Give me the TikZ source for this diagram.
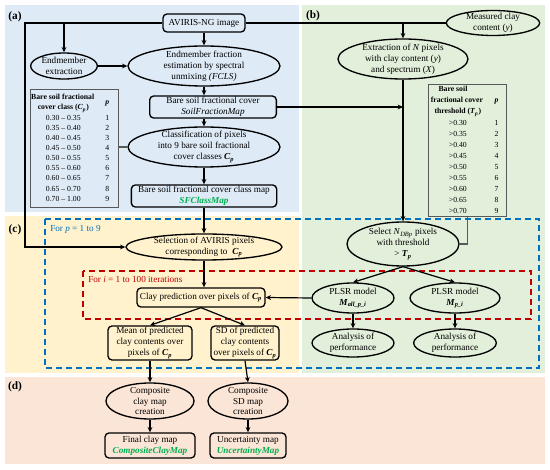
\documentclass[tikz,border=0pt]{standalone}
\usepackage{fontspec}
\setmainfont{Liberation Serif}
\usepackage{array}
\usetikzlibrary{shapes.geometric,arrows.meta}

\definecolor{panelA}{RGB}{222,234,246}
\definecolor{panelB}{RGB}{226,239,218}
\definecolor{panelC}{RGB}{255,242,204}
\definecolor{panelD}{RGB}{251,229,214}
\definecolor{loopblue}{RGB}{0,112,192}
\definecolor{loopred}{RGB}{192,0,0}
\definecolor{mapgreen}{RGB}{0,176,80}

\newcommand{\vb}[1]{\textbf{\textit{#1}}}
\newcommand{\Cp}{\vb{C}\textsubscript{\vb{p}}}
\newcommand{\Tp}{\vb{T}\textsubscript{\vb{p}}}
\newcommand{\tabfont}{\fontsize{5.8}{7.6}\selectfont}

\begin{document}
\begin{tikzpicture}[x=0.75pt,y=0.75pt,yscale=-1,xscale=1,
  font=\fontsize{6.9}{8.2}\selectfont,
  box/.style={draw, line width=1pt, rounded corners=3pt, align=center, inner sep=1pt},
  oval/.style={ellipse, draw, line width=1pt, align=center, inner xsep=0pt, inner ysep=-3pt},
  tabl/.style={draw=gray!70!black, line width=0.6pt, inner sep=0pt},
  tabline/.style={draw=gray!70!black, line width=0.8pt},
  arr/.style={line width=0.9pt, -{Stealth[length=4pt,width=3.6pt]}},
  conn/.style={line width=0.9pt},
  looplbl/.style={anchor=west, inner sep=0.75pt},
  panellbl/.style={font=\fontsize{8.5}{9}\selectfont\bfseries, inner sep=0.75pt}]
\useasboundingbox (0,0) rectangle (550,470);

%Panels
\fill [panelA] (5,5) rectangle (299,212);
\fill [panelB] (302,5) rectangle (545,373);
\fill [panelC] (5,216) rectangle (299,373);
\fill [panelD] (5,377) rectangle (545,464);

%Loop frames
\draw [loopblue, line width=1.1pt, dash pattern=on 4.5pt off 3pt] (45,219) rectangle (539,368);
\draw [loopred, line width=1.1pt, dash pattern=on 4.5pt off 3pt] (83,271) rectangle (531,319);

% Panel labels
\node (lbla) [panellbl] at (15,17) {(a)};
\node (lblb) [panellbl] at (313,16) {(b)};
\node (lblc) [panellbl] at (15,230) {(c)};
\node (lbld) [panellbl] at (15,387) {(d)};

% Loop labels
\node (forp) [looplbl, text=loopblue] at (49,229) {For \textit{p} = 1 to 9};
\node (fori) [looplbl, text=loopred] at (87,279) {For \textit{i} = 1 to 100 iterations};

% Panel (a)
\node (aviris) [box, minimum width=61.5pt, minimum height=13.5pt] at (204,23) {AVIRIS-NG image};
\node (endext) [oval, minimum width=50pt, minimum height=19.5pt] at (64,66) {Endmember\\extraction};
\node (fcls) [oval, minimum width=114pt, minimum height=30pt] at (204,66) {Endmember fraction\\estimation by spectral\\unmixing \textit{(FCLS)}};
\node (sfmap) [box, minimum width=95pt, minimum height=15.75pt] at (213,107) {Bare soil fractional cover\\\textit{SoilFractionMap}};
\node (classif) [oval, minimum width=114pt, minimum height=30pt] at (204,147) {Classification of pixels\\into 9 bare soil fractional\\cover classes \Cp};
\node (sfclass) [box, minimum width=109pt, minimum height=16.5pt] at (204,196) {Bare soil fractional cover class map\\\textcolor{mapgreen}{\vb{SFClassMap}}};
\node (tabcls) [tabl, minimum width=66pt, minimum height=89pt] at (74,148.5) {\tabfont
  \begin{tabular}{@{}>{\centering\arraybackslash}m{50pt}@{}>{\centering\arraybackslash}m{16pt}@{}}
  \textbf{Bare soil fractional}\newline\textbf{cover class (}\Cp\textbf{)} & \vb{p}\\[3pt]
  0.30 – 0.35 & 1\\
  0.35 – 0.40 & 2\\
  0.40 – 0.45 & 3\\
  0.45 – 0.50 & 4\\
  0.50 – 0.55 & 5\\
  0.55 – 0.60 & 6\\
  0.60 – 0.65 & 7\\
  0.65 – 0.70 & 8\\
  0.70 – 1.00 & 9\\
  \end{tabular}};

% Panel (b)
\node (meas) [oval, minimum width=70pt, minimum height=18.75pt] at (493,23) {Measured clay\\content (\textit{y})};
\node (extr) [oval, minimum width=97.5pt, minimum height=30pt] at (403,59) {Extraction of \textit{N} pixels\\with clay content (\textit{y})\\and spectrum (\textit{X})};
\node (tabthr) [tabl, minimum width=58pt, minimum height=98pt] at (467.5,150.5) {\fontsize{5.8}{8.3}\selectfont
  \begin{tabular}{@{}>{\centering\arraybackslash}m{43.5pt}@{}>{\centering\arraybackslash}m{14.5pt}@{}}
  {\fontsize{5.8}{6.8}\selectfont\textbf{Bare soil}\newline\textbf{fractional cover}\newline\textbf{threshold (}\Tp\textbf{)}} & \vb{p}\\[1pt]
  >0.30 & 1\\
  >0.35 & 2\\
  >0.40 & 3\\
  >0.45 & 4\\
  >0.50 & 5\\
  >0.55 & 6\\
  >0.60 & 7\\
  >0.65 & 8\\
  >0.70 & 9\\
  \end{tabular}};
\node (select) [oval, minimum width=84pt, minimum height=33pt] at (403,244) {Select \textit{N}\textsubscript{\textit{DBp}} pixels\\with threshold\\> \Tp};
\node (plsra) [oval, minimum width=61.5pt, minimum height=22.5pt] at (353,298) {PLSR model\\\vb{M}\textsubscript{\vb{all\_p\_i}}};
\node (plsrb) [oval, minimum width=67.5pt, minimum height=22.5pt] at (455,298) {PLSR model\\\vb{M}\textsubscript{\vb{p\_i}}};
\node (anala) [oval, minimum width=61.5pt, minimum height=21pt] at (353,343) {Analysis of\\performance};
\node (analb) [oval, minimum width=62pt, minimum height=21pt] at (455,343) {Analysis of\\performance};

% Panel (c)
\node (selec) [oval, minimum width=117pt, minimum height=19.5pt] at (204,247) {Selection of AVIRIS pixels\\corresponding to \;\Cp};
\node (claypred) [box, minimum width=96pt, minimum height=14.25pt] at (201,297.5) {Clay prediction over pixels of \Cp};
\node (mean) [box, minimum width=63pt, minimum height=25.5pt] at (150,343) {Mean of predicted\\clay contents over\\pixels of \Cp};
\node (sd) [box, minimum width=51pt, minimum height=25.5pt] at (245,343) {SD of predicted\\clay contents\\over pixels of \Cp};

% Panel (d)
\node (compclay) [oval, minimum width=66pt, minimum height=27pt] at (150,401) {Composite\\clay map\\creation};
\node (compsd) [oval, minimum width=60pt, minimum height=27pt] at (248,401) {Composite\\SD map\\creation};
\node (final) [box, minimum width=67.5pt, minimum height=18.75pt] at (150,445.5) {Final clay map\\\textcolor{mapgreen}{\vb{CompositeClayMap}}};
\node (uncert) [box, minimum width=57pt, minimum height=18.75pt] at (248,445.5) {Uncertainty map\\\textcolor{mapgreen}{\vb{UncertaintyMap}}};

%Straight Lines
\coordinate (lft) at (25,23);
\coordinate (jn) at (extr.north |- aviris.east);
\draw [conn] (aviris.east) -- (meas.west);
\draw [arr] (jn) -- (extr.north);
\draw [arr] (aviris.west) -- (lft) |- (selec.west);
\draw [arr] (endext.north |- lft) -- (endext.north);
\draw [arr] (aviris.south) -- (fcls.north);
\draw [arr] (endext.east) -- (fcls.west);
\draw [arr] (fcls.south) -- (fcls.south |- sfmap.north);
\draw [arr] (sfmap.east) -- (sfmap.east -| extr.south);
\draw [arr] (classif.north |- sfmap.south) -- (classif.north);
\draw [tabline] (classif.west -| tabcls.east) -- (classif.west);
\draw [arr] (classif.south) -- (sfclass.north);
\draw [arr] (sfclass.south) -- (selec.north);
\draw [arr] (extr.south) -- (select.north);
\draw [tabline] (tabthr.south) |- (select.east);
\draw [arr] (select.south) -- (plsra.north);
\draw [arr] (select.south) -- (plsrb.north);
\draw [arr] (plsra.west) -- (claypred.east);
\draw [arr] (plsra.south) -- (anala.north);
\draw [arr] (plsrb.south) -- (analb.north);
\draw [arr] (selec.south) -- (selec.south |- claypred.north);
\draw [arr] (claypred.south) -- (mean.north);
\draw [arr] (claypred.south) -- (sd.north);
\draw [arr] (mean.south) -- (compclay.north);
\draw [arr] (sd.south) -- (compsd.north);
\draw [arr] (compclay.south) -- (final.north);
\draw [arr] (compsd.south) -- (uncert.north);

\end{tikzpicture}
\end{document}
